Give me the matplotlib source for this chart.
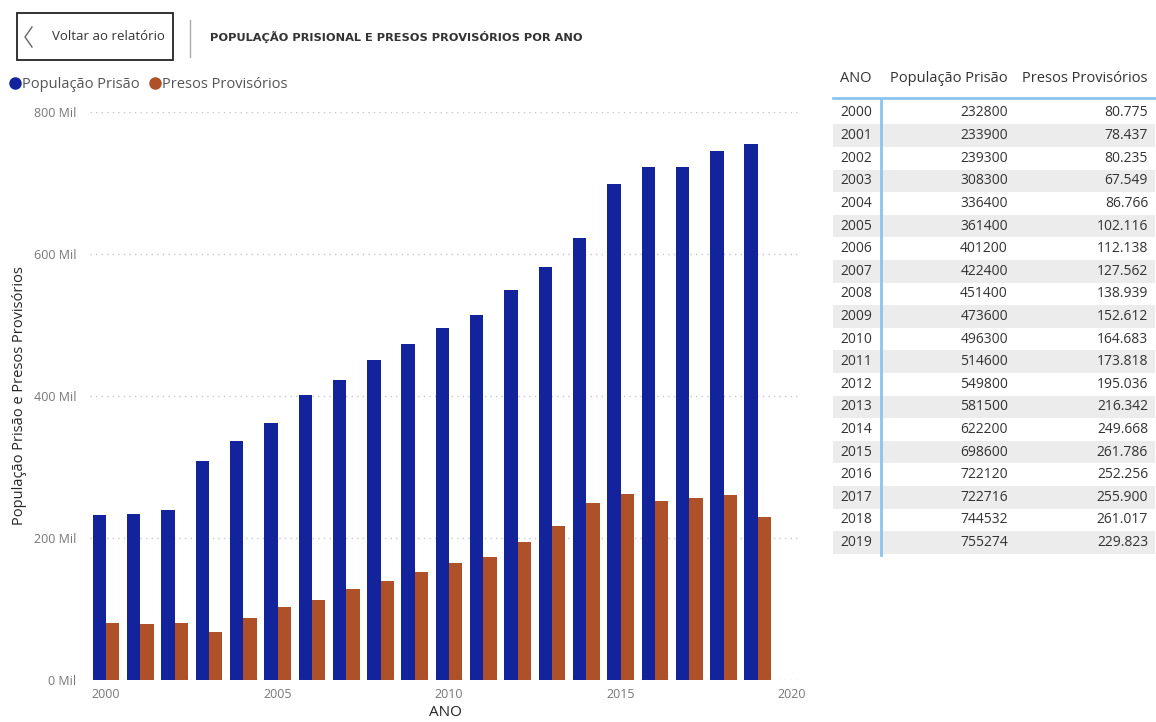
import matplotlib
matplotlib.use("Agg")
from matplotlib import pyplot as plt
from matplotlib.lines import Line2D
from matplotlib.patches import Rectangle
from matplotlib.ticker import FuncFormatter

anos = [2000, 2001, 2002, 2003, 2004, 2005, 2006, 2007, 2008, 2009,
        2010, 2011, 2012, 2013, 2014, 2015, 2016, 2017, 2018, 2019]
populacao = [232800, 233900, 239300, 308300, 336400, 361400, 401200, 422400, 451400, 473600,
             496300, 514600, 549800, 581500, 622200, 698600, 722120, 722716, 744532, 755274]
provisorios = [80775, 78437, 80235, 67549, 86766, 102116, 112138, 127562, 138939, 152612,
               164683, 173818, 195036, 216342, 249668, 261786, 252256, 255900, 261017, 229823]
y_ticks = [0, 200000, 400000, 600000, 800000]
x_ticks = [2000, 2005, 2010, 2015, 2020]

azul = '#13239C'
laranja = '#AE5028'
plt.rcParams['font.family'] = ['Open Sans', 'DejaVu Sans']

W, H = 1156, 722
fig = plt.figure(figsize=(W / 100, H / 100), dpi=100)


def fx(x):
    return x / W


def fy(y):
    return 1 - y / H


ax = fig.add_axes([fx(90), fy(680), fx(800) - fx(90), fy(112) - fy(680)])
w = 0.39
ax.bar([a - w / 2 for a in anos], populacao, width=w, color=azul, zorder=3)
ax.bar([a + w / 2 for a in anos], provisorios, width=w, color=laranja, zorder=3)
ax.set_xlim(1999.53, 2020.23)
ax.set_ylim(0, 800000)
ax.set_yticks(y_ticks)
ax.set_xticks(x_ticks)
ax.yaxis.set_major_formatter(FuncFormatter(lambda v, p: '%d Mil' % (v / 1000)))
ax.grid(axis='y', linestyle=(0, (1, 3)), color='#c8c8c8', linewidth=1, zorder=0)
for s in ax.spines.values():
    s.set_visible(False)
ax.tick_params(length=0, labelsize=9, labelcolor='#777777')
ax.tick_params(axis='y', pad=10)
ax.tick_params(axis='x', pad=6)
ax.set_xlabel('ANO', fontsize=11, color='#252525', labelpad=3)
ax.set_ylabel('População Prisão e Presos Provisórios', fontsize=10.5, color='#252525', labelpad=5)

handles = [Line2D([], [], marker='o', linestyle='', color=azul, markersize=8),
           Line2D([], [], marker='o', linestyle='', color=laranja, markersize=8)]
leg = fig.legend(handles, ['População Prisão', 'Presos Provisórios'], loc='center left',
                 bbox_to_anchor=(fx(2), fy(85)), ncol=2, frameon=False, fontsize=10.5,
                 handletextpad=0.0, columnspacing=0.5, handlelength=1.0, borderaxespad=0)
for t in leg.get_texts():
    t.set_color('#555555')

# botao e titulo
fig.patches.append(Rectangle((fx(17), fy(60)), fx(173) - fx(17), fy(13) - fy(60),
                             transform=fig.transFigure, fill=False, edgecolor='#222222',
                             linewidth=1.3))
fig.lines.append(Line2D([fx(32), fx(25), fx(32)], [fy(27), fy(37), fy(47)],
                        transform=fig.transFigure, color='#666666', linewidth=1.0))
fig.text(fx(52), fy(37), 'Voltar ao relatório', fontsize=9.5, color='#333333', va='center')
fig.lines.append(Line2D([fx(190), fx(190)], [fy(20), fy(57)], transform=fig.transFigure,
                        color='#aaaaaa', linewidth=1))
fig.text(fx(210), fy(37), 'POPULAÇÃO PRISIONAL E PRESOS PROVISÓRIOS POR ANO', fontsize=8.2,
         fontweight='bold', color='#333333', va='center', family=['DejaVu Sans'])

# tabela
head_y = 78
fig.text(fx(840), fy(head_y), 'ANO', fontsize=10.5, color='#333333', va='center')
fig.text(fx(1008), fy(head_y), 'População Prisão', fontsize=10.5, color='#333333', va='center', ha='right')
fig.text(fx(1148), fy(head_y), 'Presos Provisórios', fontsize=10.5, color='#333333', va='center', ha='right')
fig.lines.append(Line2D([fx(833), fx(1155)], [fy(98), fy(98)], transform=fig.transFigure,
                        color='#8cc4f0', linewidth=2))
row_h = 22.6
for i, (a, p, q) in enumerate(zip(anos, populacao, provisorios)):
    yc = 113 + i * row_h
    if i % 2 == 1:
        fig.patches.append(Rectangle((fx(833), fy(yc + row_h / 2)), fx(1155) - fx(833),
                                     fy(yc - row_h / 2) - fy(yc + row_h / 2),
                                     transform=fig.transFigure, facecolor='#ececec',
                                     edgecolor='none', zorder=0))
    fig.text(fx(840), fy(yc), str(a), fontsize=10, color='#333333', va='center')
    fig.text(fx(1008), fy(yc), str(p), fontsize=10, color='#333333', va='center', ha='right')
    fig.text(fx(1148), fy(yc), f'{q:,}'.replace(',', '.'), fontsize=10, color='#333333',
             va='center', ha='right')
fig.lines.append(Line2D([fx(881), fx(881)], [fy(99), fy(555)], transform=fig.transFigure,
                        color='#8cc4f0', linewidth=2))

fig.savefig('out.png', dpi=100)
